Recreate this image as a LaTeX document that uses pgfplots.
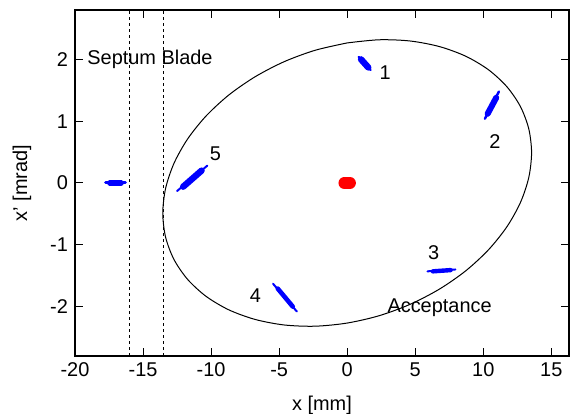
\documentclass[border=0pt]{standalone}
\usepackage{fontspec}
\setmainfont{Liberation Sans}
\usepackage{pgfplots}
\pgfplotsset{compat=1.18}
\begin{document}
\begin{tikzpicture}
\begin{axis}[
  scale only axis, width=247bp, height=173bp,
  xmin=-20, xmax=16.3, ymin=-2.8, ymax=2.8,
  xtick={-20,-15,-10,-5,0,5,10,15}, ytick={-2,-1,0,1,2},
  tick align=inside, major tick length=4bp,
  axis line style={line width=0.6bp},
  every tick/.style={line width=0.5bp, black},
  /pgf/number format/assume math mode=true,
  ticklabel style={font=\fontsize{10}{12}\selectfont},
  xlabel={x [mm]}, ylabel={x' [mrad]},
  xlabel style={at={(axis description cs:0.5,-0.1416)}, anchor=center},
  ylabel style={at={(axis description cs:-0.1073,0.5)}, anchor=center},
  clip=true,
]
% septum blade
\addplot[black, line width=0.4bp, dash pattern=on 1.5bp off 1.5bp] coordinates {(-16,-2.8) (-16,2.8)};
\addplot[black, line width=0.4bp, dash pattern=on 1.5bp off 1.5bp] coordinates {(-13.5,-2.8) (-13.5,2.8)};
% acceptance ellipse
\addplot[black, line width=0.5bp, smooth] coordinates {
(0,2.267) (-2.353,2.148) (-4.634,1.963) (-6.775,1.718) (-8.710,1.422) (-10.380,1.082)
(-11.735,0.709) (-12.733,0.315) (-13.344,-0.089) (-13.55,-0.490) (-13.344,-0.876)
(-12.733,-1.236) (-11.735,-1.558) (-10.380,-1.833) (-8.710,-2.052) (-6.775,-2.208)
(-4.634,-2.298) (-2.353,-2.318) (0,-2.267) (2.353,-2.148) (4.634,-1.963) (6.775,-1.718)
(8.710,-1.422) (10.380,-1.082) (11.735,-0.709) (12.733,-0.315) (13.344,0.089)
(13.55,0.490) (13.344,0.876) (12.733,1.236) (11.735,1.558) (10.380,1.833) (8.710,2.052)
(6.775,2.208) (4.634,2.298) (2.353,2.318) (0,2.267)};
% beam at injection
\addplot[red, line width=6bp, line cap=round] coordinates {(-0.2,0.0) (0.2,0.0)};
% turn 1
\addplot[blue, line width=1.2bp, line cap=round] coordinates {(0.85,2.04) (1.72,1.83)};
\addplot[blue, line width=3.2bp, line cap=round] coordinates {(1.02,2.0) (1.55,1.87)};
% turn 2
\addplot[blue, line width=1.2bp, line cap=round] coordinates {(11.15,1.48) (10.12,1.04)};
\addplot[blue, line width=3bp, line cap=round] coordinates {(10.95,1.38) (10.32,1.12)};
% turn 3
\addplot[blue, line width=1bp, line cap=round] coordinates {(5.9,-1.43) (7.95,-1.40)};
\addplot[blue, line width=2.2bp, line cap=round] coordinates {(6.3,-1.43) (7.6,-1.41)};
% turn 4
\addplot[blue, line width=1bp, line cap=round] coordinates {(-5.45,-1.63) (-3.7,-2.08)};
\addplot[blue, line width=2.3bp, line cap=round] coordinates {(-5.1,-1.71) (-4.0,-2.0)};
% turn 5
\addplot[blue, line width=1bp, line cap=round] coordinates {(-12.5,-0.13) (-10.28,0.28)};
\addplot[blue, line width=3.2bp, line cap=round] coordinates {(-12.05,-0.06) (-10.7,0.2)};
% outside
\addplot[blue, line width=1.5bp, line cap=round] coordinates {(-17.75,0.0) (-16.3,0.0)};
\addplot[blue, line width=2.6bp, line cap=round] coordinates {(-17.45,0.0) (-16.6,0.0)};
% labels
\node at (axis cs:2.8,1.79) {1};
\node at (axis cs:10.85,0.67) {2};
\node at (axis cs:6.35,-1.12) {3};
\node at (axis cs:-6.74,-1.83) {4};
\node at (axis cs:-9.69,0.48) {5};
\node at (axis cs:-14.49,2.0) {Septum Blade};
\node at (axis cs:6.79,-2.02) {Acceptance};
\coordinate (ll) at (rel axis cs:0,0);
\coordinate (ur) at (rel axis cs:1,1);
\end{axis}
\pgfresetboundingbox
\path ([shift={(-37.5bp,-29bp)}]ll) rectangle ([shift={(1bp,5bp)}]ur);
\end{tikzpicture}
\end{document}
